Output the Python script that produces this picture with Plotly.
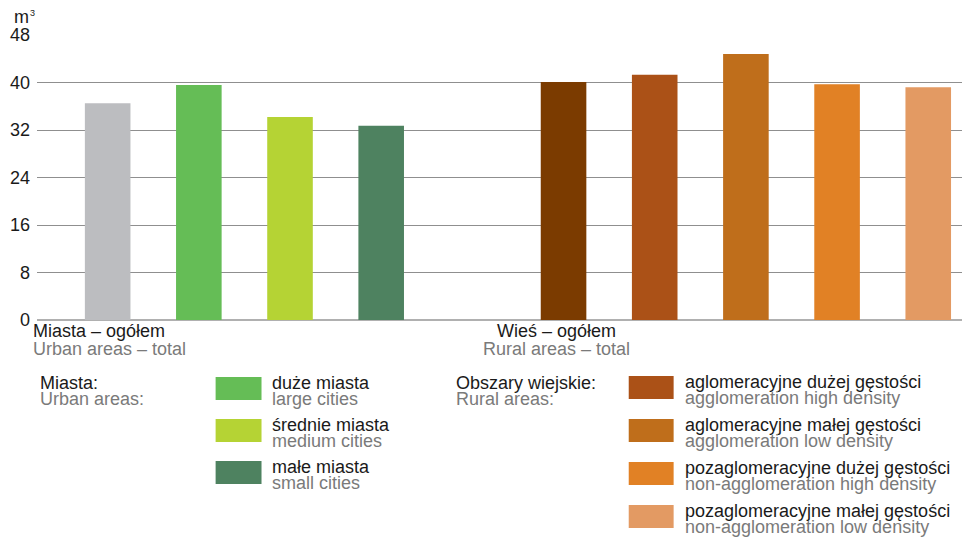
import plotly.graph_objects as go

# ---- data ----
categories = ["Miasta – ogółem", "duże miasta", "średnie miasta", "małe miasta",
              "Wieś – ogółem", "aglomeracyjne dużej gęstości", "aglomeracyjne małej gęstości",
              "pozaglomeracyjne dużej gęstości", "pozaglomeracyjne małej gęstości"]
values = [36.5, 39.6, 34.2, 32.7, 40.1, 41.3, 44.8, 39.7, 39.2]
colors = ["#bcbdc0", "#65bd56", "#b5d334", "#4e8260",
          "#7b3b00", "#ab5117", "#bf6e1b", "#e18125", "#e39a63"]
axis_order = categories[:4] + ["gap"] + categories[4:]
y_ticks = [0, 8, 16, 24, 32, 40, 48]

urban_legend = [("duże miasta", "large cities", "#65bd56"),
                ("średnie miasta", "medium cities", "#b5d334"),
                ("małe miasta", "small cities", "#4e8260")]
rural_legend = [("aglomeracyjne dużej gęstości", "agglomeration high density", "#ab5117"),
                ("aglomeracyjne małej gęstości", "agglomeration low density", "#bf6e1b"),
                ("pozaglomeracyjne dużej gęstości", "non-agglomeration high density", "#e18125"),
                ("pozaglomeracyjne małej gęstości", "non-agglomeration low density", "#e39a63")]

# page is 970x539 but the html body has an 8px margin
PAGE_W, PAGE_H, BODY = 970, 539, 8
W, H = PAGE_W - BODY, PAGE_H - BODY
PLOT_L, PLOT_R, PLOT_T, PLOT_B = 35, 968, 35, 320   # in page pixels
ML, MR, MT, MB = PLOT_L - BODY, PAGE_W - PLOT_R, PLOT_T - BODY, PAGE_H - PLOT_B
PW, PH = PLOT_R - PLOT_L, PLOT_B - PLOT_T
FONT = "Liberation Sans, Arial, sans-serif"
DARK = "#1a1a1a"
GREY = "#7a7a7a"


def px(x):
    return (x - PLOT_L) / PW


def py(y):
    return (PLOT_B - y) / PH


fig = go.Figure(go.Bar(x=categories, y=values, marker=dict(color=colors, line_width=0),
                       width=0.5, hoverinfo="skip"))

ann = []
shapes = []


def text(x, y, s, color, anchor="left", size=18):
    ann.append(dict(x=px(x), y=py(y), xref="paper", yref="paper", text=s, showarrow=False,
                    xanchor=anchor, yanchor="middle", font=dict(family=FONT, size=size, color=color)))


# unit
text(10, 17, "m", DARK)
text(26, 13, "3", DARK, size=9)
# category group labels
text(29, 331, "Miasta – ogółem", DARK)
text(29, 349, "Urban areas – total", GREY)
text(556, 331, "Wieś – ogółem", DARK, anchor="center")
text(556, 349, "Rural areas – total", GREY, anchor="center")

# legend - urban
text(36, 383, "Miasta:", DARK)
text(36, 399, "Urban areas:", GREY)
for i, (pl, en, c) in enumerate(urban_legend):
    top = 377 + 42 * i
    shapes.append(dict(type="rect", xref="paper", yref="paper", x0=px(214), x1=px(260),
                       y0=py(top + 23), y1=py(top), fillcolor=c, line_width=0))
    text(268, top + 6, pl, DARK)
    text(268, top + 22, en, GREY)

# legend - rural
text(453, 383, "Obszary wiejskie:", DARK)
text(453, 399, "Rural areas:", GREY)
for i, (pl, en, c) in enumerate(rural_legend):
    top = 376 + 43 * i
    shapes.append(dict(type="rect", xref="paper", yref="paper", x0=px(628), x1=px(673),
                       y0=py(top + 23), y1=py(top), fillcolor=c, line_width=0))
    text(682, top + 6, pl, DARK)
    text(682, top + 22, en, GREY)

fig.update_layout(
    width=W, height=H, margin=dict(l=ML, r=MR, t=MT, b=MB, pad=0),
    paper_bgcolor="white", plot_bgcolor="white", showlegend=False,
    font=dict(family=FONT, size=18, color=DARK),
    annotations=ann, shapes=shapes, bargap=0.5,
    xaxis=dict(categoryorder="array", categoryarray=axis_order, range=[-0.775, 9.436],
               showticklabels=False, showgrid=False, zeroline=False, showline=False, ticks=""),
    yaxis=dict(range=[0, 48], tickvals=y_ticks, ticktext=[str(v) for v in y_ticks],
               showgrid=True, gridcolor="#8f8f8f", gridwidth=1.2, zeroline=True,
               zerolinecolor="#b0b0b0", zerolinewidth=1.5, showline=False, ticks="",
               ticklabelstandoff=6, tickfont=dict(family=FONT, size=18, color=DARK)),
)

fig.write_html("out.html")
